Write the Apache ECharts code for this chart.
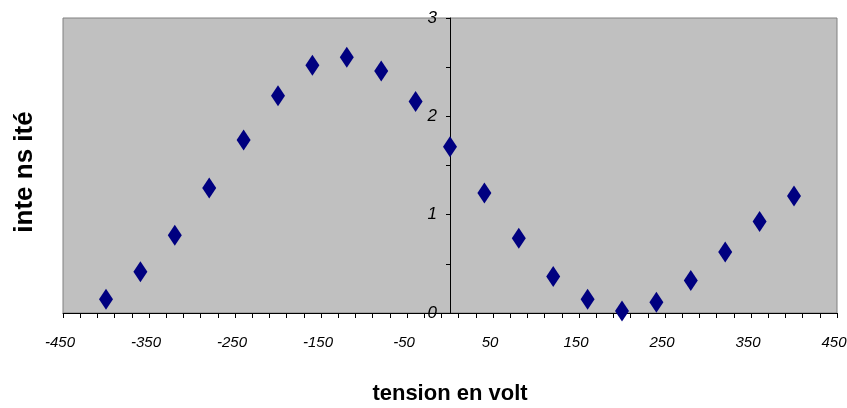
<!DOCTYPE html>
<html>
<head>
<meta charset="utf-8">
<script src="https://cdn.jsdelivr.net/npm/echarts@6/dist/echarts.min.js"></script>
<style>
  html, body { margin: 0; padding: 0; background: #fff; }
  #chart { width: 847px; height: 408px; }
</style>
</head>
<body>
<div id="chart"></div>
<script>
// tension (V) et intensité
const tension = [-400, -360, -320, -280, -240, -200, -160, -120, -80, -40, 0,
  40, 80, 120, 160, 200, 240, 280, 320, 360, 400];
const intensite = [0.14, 0.42, 0.79, 1.27, 1.76, 2.21, 2.52, 2.60, 2.46, 2.15, 1.69,
  1.22, 0.76, 0.37, 0.14, 0.02, 0.11, 0.33, 0.62, 0.93, 1.19];
const xTicks = [-450, 450, 100]; // min, max, pas
const yTicks = [0, 3, 1];

const labelFont = "'Liberation Sans Narrow', 'Liberation Sans', Arial, sans-serif";

const chart = echarts.init(document.getElementById("chart"));
chart.setOption({
  animation: false,
  grid: {
    left: 63, right: 10, top: 18, bottom: 95,
    outerBoundsMode: "none",
    show: true,
    backgroundColor: "#c0c0c0",
    borderColor: "#808080",
    borderWidth: 1,
  },
  xAxis: {
    type: "value",
    min: xTicks[0],
    max: xTicks[1],
    interval: xTicks[2],
    name: "tension en volt",
    nameLocation: "middle",
    nameGap: 70,
    nameTextStyle: {
      fontFamily: labelFont, fontWeight: "bold", fontSize: 22, color: "#000",
    },
    axisLine: { onZero: false, lineStyle: { color: "#000", width: 1 } },
    axisTick: { show: true, length: 5, lineStyle: { color: "#000" } },
    minorTick: { show: true, splitNumber: 5, length: 5, lineStyle: { color: "#000" } },
    axisLabel: {
      fontFamily: labelFont, fontStyle: "italic", fontSize: 15, color: "#000",
      margin: 22, padding: [0, 6, 0, 0],
    },
    splitLine: { show: false },
  },
  yAxis: {
    type: "value",
    position: "left",
    offset: -387, // axe vertical placé sur x = 0
    min: yTicks[0],
    max: yTicks[1],
    interval: yTicks[2],
    axisLine: { show: true, onZero: false, lineStyle: { color: "#000", width: 1 } },
    axisTick: { show: true, length: 4, lineStyle: { color: "#000" } },
    minorTick: { show: true, splitNumber: 2, length: 4, lineStyle: { color: "#000" } },
    axisLabel: {
      fontFamily: labelFont, fontStyle: "italic", fontSize: 17, color: "#000", margin: 13,
    },
    splitLine: { show: false },
  },
  graphic: [
    {
      type: "text",
      x: 25,
      y: 172,
      rotation: Math.PI / 2,
      style: {
        text: "inte ns ité",
        font: "bold 26px " + labelFont,
        fill: "#000",
        align: "center",
        verticalAlign: "middle",
      },
    },
  ],
  series: [
    {
      type: "scatter",
      symbol: "diamond",
      symbolSize: [14, 21],
      itemStyle: { color: "#000080", opacity: 1 },
      data: tension.map((t, i) => [t, intensite[i]]),
    },
  ],
});
</script>
</body>
</html>
